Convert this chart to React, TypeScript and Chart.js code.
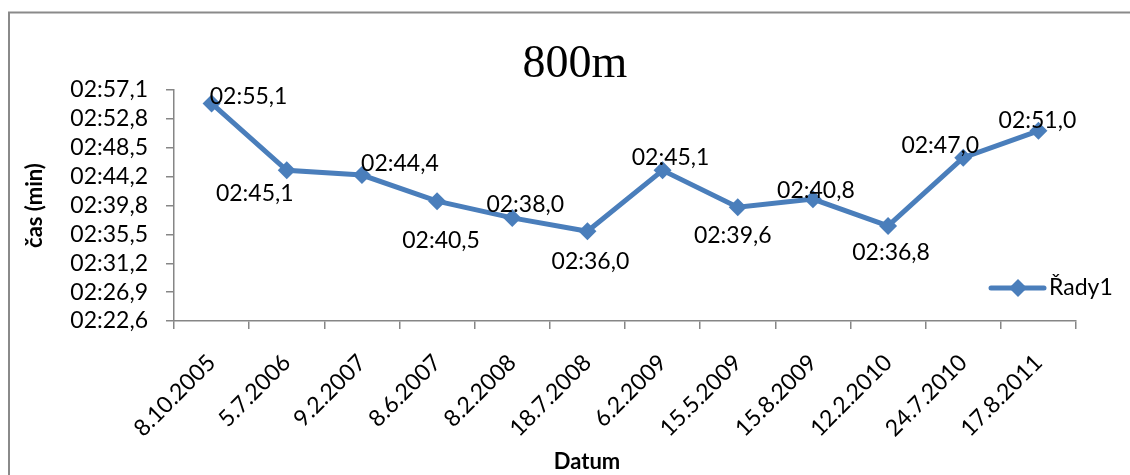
import React, { useEffect, useRef } from "react";
import { Chart, registerables } from "chart.js";

Chart.register(...registerables);

const categories = [
  "8.10.2005", "5.7.2006", "9.2.2007", "8.6.2007", "8.2.2008", "18.7.2008",
  "6.2.2009", "15.5.2009", "15.8.2009", "12.2.2010", "24.7.2010", "17.8.2011",
];
// times in seconds
const seriesValues = [175.1, 165.1, 164.4, 160.5, 158.0, 156.0, 165.1, 159.6, 160.8, 156.8, 167.0, 171.0];
const seriesName = "Řady1";
const yTickLabels = [
  "02:22,6", "02:26,9", "02:31,2", "02:35,5", "02:39,8",
  "02:44,2", "02:48,5", "02:52,8", "02:57,1",
];
const yMin = 142.6;
const yMax = 177.1;
const chartTitle = "800m";
const xTitle = "Datum";
const yTitle = "čas (min)";

const fmt = (v: number) => {
  const m = Math.floor(v / 60);
  const s = v - m * 60;
  const ss = s.toFixed(1).padStart(4, "0").replace(".", ",");
  return "0" + m + ":" + ss;
};

const LABEL_OFFSETS: [number, number][] = [
  [37, -7], [-32, 23], [38, -11], [4, 39], [13, -13], [3, 30],
  [8, -13], [-5, 28], [3, -9], [3, 27], [-23, -12], [-1, -10],
];

const COLOR = "#4A7EBB";
const FONT = "Lato, 'Open Sans', sans-serif";

const decorPlugin = {
  id: "decor",
  afterDraw(chart: any) {
    const ctx = chart.ctx;
    ctx.save();
    // outer border
    ctx.strokeStyle = "#8a8a8a";
    ctx.lineWidth = 2;
    ctx.strokeRect(9, 12.5, 1140, 480);
    // title
    ctx.fillStyle = "#000";
    ctx.font = "46px 'Liberation Serif', 'Times New Roman', serif";
    ctx.textAlign = "center";
    ctx.textBaseline = "alphabetic";
    ctx.fillText(chartTitle, 575, 77);
    // x title
    ctx.font = "bold 22px " + FONT;
    ctx.textBaseline = "middle";
    ctx.fillText(xTitle, 587, 462);
    // data labels
    const meta = chart.getDatasetMeta(0);
    ctx.font = "23px " + FONT;
    meta.data.forEach((pt: any, i: number) => {
      const [dx, dy] = LABEL_OFFSETS[i];
      ctx.fillText(fmt(seriesValues[i]), pt.x + dx, pt.y + dy);
    });
    // legend
    const ly = 288;
    ctx.strokeStyle = COLOR;
    ctx.lineWidth = 5;
    ctx.lineCap = "round";
    ctx.beginPath();
    ctx.moveTo(991, ly);
    ctx.lineTo(1044, ly);
    ctx.stroke();
    ctx.fillStyle = COLOR;
    ctx.beginPath();
    ctx.moveTo(1018, ly - 9);
    ctx.lineTo(1027, ly);
    ctx.lineTo(1018, ly + 9);
    ctx.lineTo(1009, ly);
    ctx.closePath();
    ctx.fill();
    ctx.fillStyle = "#000";
    ctx.font = "23px " + FONT;
    ctx.textAlign = "left";
    ctx.fillText(seriesName, 1049, ly);
    ctx.restore();
  },
};

export default function App() {
  const ref = useRef<HTMLCanvasElement>(null);
  useEffect(() => {
    document.body.style.margin = "0";
    const chart = new Chart(ref.current!, {
      type: "line",
      data: {
        labels: categories,
        datasets: [
          {
            label: seriesName,
            data: seriesValues,
            borderColor: COLOR,
            backgroundColor: COLOR,
            borderWidth: 5,
            pointStyle: "rectRot",
            pointRadius: 9,
            pointBackgroundColor: COLOR,
            pointBorderWidth: 0,
            tension: 0,
          },
        ],
      },
      options: {
        animation: false,
        responsive: false,
        layout: { padding: { top: 90, right: 54, left: 0, bottom: 0 } },
        plugins: { legend: { display: false }, tooltip: { enabled: false }, title: { display: false } },
        scales: {
          x: {
            offset: true,
            afterFit: (s: any) => { s.height = 154; },
            grid: { offset: true, drawOnChartArea: false, drawTicks: true, tickLength: 8, color: "#868686", lineWidth: 1.5 },
            border: { color: "#868686", width: 1.5 },
            ticks: {
              autoSkip: false, minRotation: 45, maxRotation: 45, color: "#000", padding: 20,
              font: { family: FONT, size: 23 },
            },
          },
          y: {
            min: yMin,
            max: yMax,
            afterFit: (s: any) => { s.width = 174; },
            afterBuildTicks: (s: any) => {
              s.ticks = yTickLabels.map((_, i) => ({ value: yMin + (i * (yMax - yMin)) / (yTickLabels.length - 1) }));
            },
            grid: { drawOnChartArea: false, drawTicks: true, tickLength: 8, color: "#868686", lineWidth: 1.5 },
            border: { color: "#868686", width: 1.5 },
            ticks: {
              autoSkip: false,
              color: "#000", padding: 18,
              font: { family: FONT, size: 23 },
              callback: (_v: any, i: number) => yTickLabels[i],
            },
            title: {
              display: true, text: yTitle, color: "#000",
              font: { family: FONT, size: 22, weight: "bold" },
              padding: { top: 22, bottom: 0 },
            },
          },
        },
      },
      plugins: [decorPlugin],
    });
    return () => chart.destroy();
  }, []);
  return <canvas ref={ref} width={1130} height={475} style={{ display: "block" }} />;
}
